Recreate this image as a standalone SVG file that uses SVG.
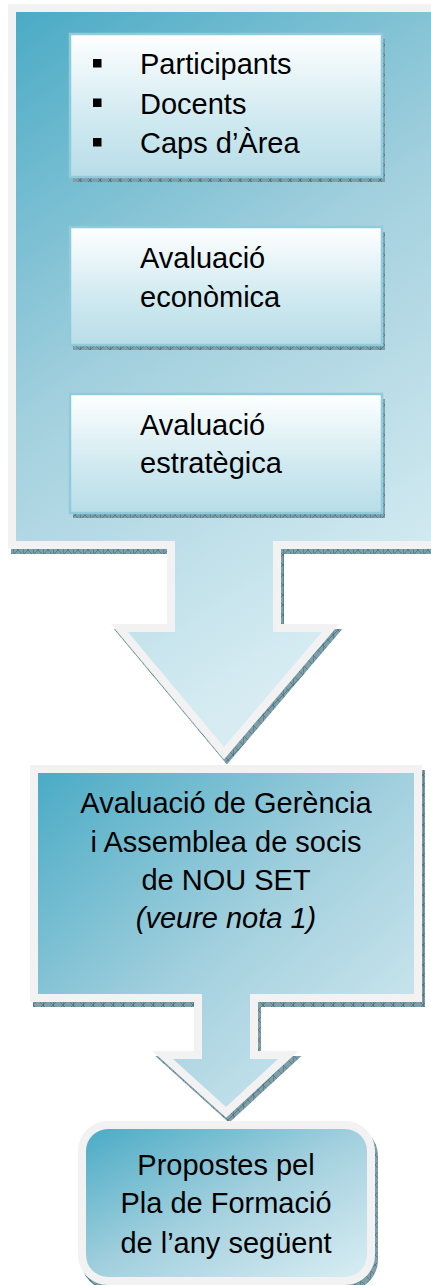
<svg xmlns="http://www.w3.org/2000/svg" width="431" height="1285" viewBox="0 0 431 1285">
<defs>
<linearGradient id="g1" gradientUnits="userSpaceOnUse" x1="16" y1="12" x2="400" y2="600">
<stop offset="0" stop-color="#4aabc5"/>
<stop offset="0.5" stop-color="#a3d0de"/>
<stop offset="1" stop-color="#d6ecf2"/>
</linearGradient>
<linearGradient id="g2" x1="0" y1="0" x2="1" y2="1">
<stop offset="0" stop-color="#4aabc5"/>
<stop offset="0.5" stop-color="#a3d0de"/>
<stop offset="1" stop-color="#d8edf3"/>
</linearGradient>
<linearGradient id="gw" x1="0" y1="0" x2="0" y2="1">
<stop offset="0" stop-color="#ffffff"/>
<stop offset="0.55" stop-color="#d3ebf1"/>
<stop offset="1" stop-color="#b8dde8"/>
</linearGradient>
<pattern id="hatch" patternUnits="userSpaceOnUse" width="10" height="10">
<rect width="10" height="10" fill="#7f9ea8"/>
<path d="M0,0 L10,10 M10,0 L0,10" stroke="#55808c" stroke-width="1"/>
<path d="M0,0 V10" stroke="#3e6a77" stroke-width="1"/>
</pattern>
<style>
.t{font-family:"Liberation Sans",Arial,sans-serif;font-size:29px;fill:#000}
.c{text-anchor:middle}
.grey{fill:#f2f2f2;stroke:#f2f2f2;stroke-width:16;stroke-linejoin:miter}
.sh{fill:url(#hatch);stroke:url(#hatch);stroke-width:16;stroke-linejoin:miter}
.wb{fill:url(#gw);stroke:#8fcbdb;stroke-width:2.5}
.wsh{fill:url(#hatch)}
</style>
</defs>

<g id="evaluation-block">
<path class="sh" transform="translate(3,5)" d="M16,12 H445 V541 H273 V632 H322 L224,747 L128,632 H175 V541 H16 Z"/>
<path class="grey" d="M16,12 H445 V541 H273 V632 H322 L224,747 L128,632 H175 V541 H16 Z"/>
<path fill="url(#g1)" d="M16,12 H445 V541 H273 V632 H322 L224,747 L128,632 H175 V541 H16 Z"/>
</g>

<g id="box-participants">
<rect class="wsh" x="73" y="39" width="312" height="143"/>
<rect class="wb" x="70" y="34" width="312" height="143"/>
<rect x="93" y="59" width="8.5" height="8.5" fill="#000"/>
<rect x="93" y="98.5" width="8.5" height="8.5" fill="#000"/>
<rect x="93" y="138" width="8.5" height="8.5" fill="#000"/>
<text class="t" x="140" y="74">Participants</text>
<text class="t" x="140" y="113.5">Docents</text>
<text class="t" x="140" y="153">Caps d’Àrea</text>
</g>

<g id="box-economica">
<rect class="wsh" x="73" y="232" width="312" height="118"/>
<rect class="wb" x="70" y="227" width="312" height="118"/>
<text class="t" x="140" y="268">Avaluació</text>
<text class="t" x="140" y="307">econòmica</text>
</g>

<g id="box-estrategica">
<rect class="wsh" x="73" y="399" width="312" height="119"/>
<rect class="wb" x="70" y="394" width="312" height="119"/>
<text class="t" x="140" y="435">Avaluació</text>
<text class="t" x="140" y="473">estratègica</text>
</g>

<g id="box-gerencia">
<path class="sh" transform="translate(3,5)" d="M38,773 H414 V994 H250 V1059 H278 L226,1107 L173,1059 H202 V994 H38 Z"/>
<path class="grey" d="M38,773 H414 V994 H250 V1059 H278 L226,1107 L173,1059 H202 V994 H38 Z"/>
<path fill="url(#g2)" d="M38,773 H414 V994 H250 V1059 H278 L226,1107 L173,1059 H202 V994 H38 Z"/>
<text class="t c" x="226" y="813">Avaluació de Gerència</text>
<text class="t c" x="226" y="851.5">i Assemblea de socis</text>
<text class="t c" x="226" y="890">de NOU SET</text>
<text class="t c" x="226" y="928" font-style="italic">(veure nota 1)</text>
</g>

<g id="box-propostes">
<rect class="sh" x="89" y="1134" width="281" height="148" rx="22"/>
<rect class="grey" x="86" y="1129" width="281" height="148" rx="22"/>
<rect fill="url(#g2)" x="86" y="1129" width="281" height="148" rx="22"/>
<text class="t c" x="226" y="1175">Propostes pel</text>
<text class="t c" x="226" y="1213">Pla de Formació</text>
<text class="t c" x="226" y="1253">de l’any següent</text>
</g>

<g id="connectors"/>
</svg>
